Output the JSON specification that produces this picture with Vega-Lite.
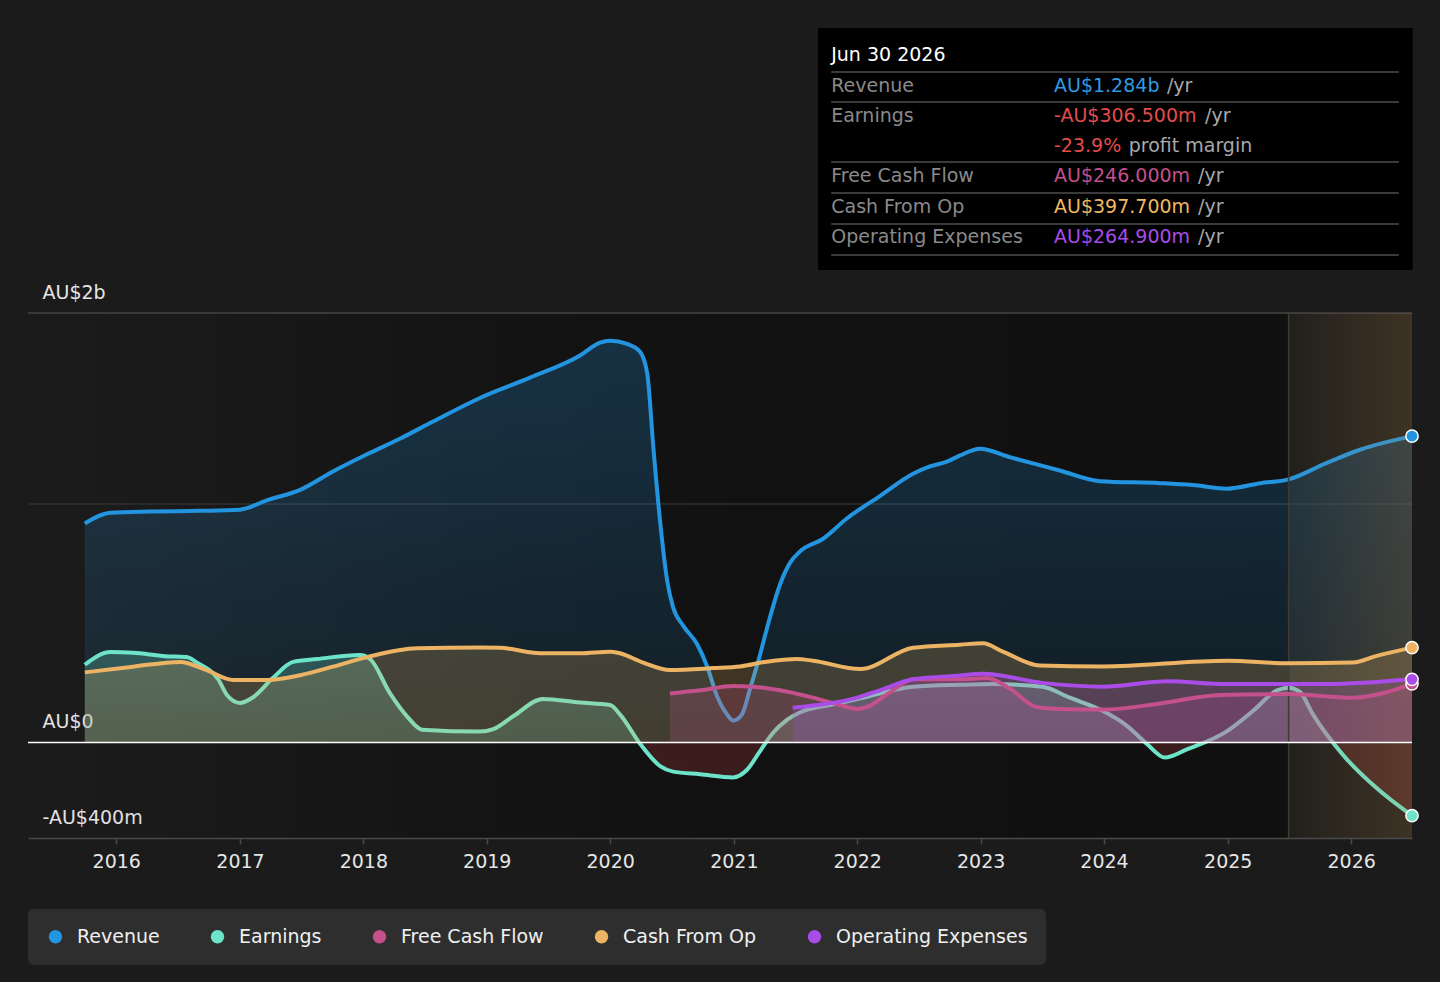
{
  "$schema": "https://vega.github.io/schema/vega-lite/v6.json",
  "width": 1384,
  "height": 525,
  "autosize": {"type": "none"},
  "padding": {"left": 28, "top": 313, "right": 28, "bottom": 144},
  "background": "#1b1b1b",
  "config": {
    "font": "DejaVu Sans",
    "view": {"stroke": null},
    "axis": {"title": null},
    "legend": {
      "orient": "none",
      "legendX": 0,
      "legendY": 596,
      "direction": "horizontal",
      "fillColor": "#2e2e2e",
      "padding": 18,
      "cornerRadius": 6,
      "labelColor": "#f0f0f0",
      "labelFontSize": 19,
      "labelFont": "DejaVu Sans",
      "symbolType": "circle",
      "symbolSize": 180,
      "symbolStrokeWidth": 0,
      "symbolOpacity": 1,
      "labelOffset": 12,
      "columnPadding": 48,
      "labelLimit": 0
    }
  },
  "datasets": {
    "fin": [
      {"series": "Revenue", "date": "2015-09-30", "value": 918},
      {"series": "Revenue", "date": "2015-12-15", "value": 963},
      {"series": "Revenue", "date": "2016-04-10", "value": 968},
      {"series": "Revenue", "date": "2016-09-05", "value": 971},
      {"series": "Revenue", "date": "2017-01-01", "value": 976},
      {"series": "Revenue", "date": "2017-03-23", "value": 1016},
      {"series": "Revenue", "date": "2017-06-28", "value": 1059},
      {"series": "Revenue", "date": "2017-10-03", "value": 1136},
      {"series": "Revenue", "date": "2018-01-12", "value": 1208},
      {"series": "Revenue", "date": "2018-04-19", "value": 1273},
      {"series": "Revenue", "date": "2018-07-26", "value": 1345},
      {"series": "Revenue", "date": "2018-12-12", "value": 1444},
      {"series": "Revenue", "date": "2019-05-09", "value": 1529},
      {"series": "Revenue", "date": "2019-10-04", "value": 1622},
      {"series": "Revenue", "date": "2019-12-02", "value": 1676},
      {"series": "Revenue", "date": "2020-01-01", "value": 1684},
      {"series": "Revenue", "date": "2020-02-20", "value": 1671},
      {"series": "Revenue", "date": "2020-03-30", "value": 1637},
      {"series": "Revenue", "date": "2020-04-20", "value": 1544},
      {"series": "Revenue", "date": "2020-05-08", "value": 1234},
      {"series": "Revenue", "date": "2020-05-28", "value": 924},
      {"series": "Revenue", "date": "2020-06-18", "value": 676},
      {"series": "Revenue", "date": "2020-07-05", "value": 568},
      {"series": "Revenue", "date": "2020-08-04", "value": 490},
      {"series": "Revenue", "date": "2020-09-14", "value": 413},
      {"series": "Revenue", "date": "2020-10-14", "value": 319},
      {"series": "Revenue", "date": "2020-11-12", "value": 195},
      {"series": "Revenue", "date": "2020-12-12", "value": 118},
      {"series": "Revenue", "date": "2020-12-30", "value": 92},
      {"series": "Revenue", "date": "2021-01-25", "value": 118},
      {"series": "Revenue", "date": "2021-02-18", "value": 226},
      {"series": "Revenue", "date": "2021-03-19", "value": 366},
      {"series": "Revenue", "date": "2021-04-17", "value": 521},
      {"series": "Revenue", "date": "2021-05-17", "value": 660},
      {"series": "Revenue", "date": "2021-06-16", "value": 753},
      {"series": "Revenue", "date": "2021-07-15", "value": 800},
      {"series": "Revenue", "date": "2021-09-22", "value": 854},
      {"series": "Revenue", "date": "2021-12-02", "value": 940},
      {"series": "Revenue", "date": "2022-03-09", "value": 1033},
      {"series": "Revenue", "date": "2022-06-15", "value": 1126},
      {"series": "Revenue", "date": "2022-08-04", "value": 1157},
      {"series": "Revenue", "date": "2022-09-23", "value": 1177},
      {"series": "Revenue", "date": "2022-11-01", "value": 1203},
      {"series": "Revenue", "date": "2022-12-30", "value": 1231},
      {"series": "Revenue", "date": "2023-03-28", "value": 1196},
      {"series": "Revenue", "date": "2023-08-23", "value": 1140},
      {"series": "Revenue", "date": "2023-12-20", "value": 1095},
      {"series": "Revenue", "date": "2024-06-15", "value": 1087},
      {"series": "Revenue", "date": "2024-09-20", "value": 1079},
      {"series": "Revenue", "date": "2024-12-30", "value": 1064},
      {"series": "Revenue", "date": "2025-04-07", "value": 1087},
      {"series": "Revenue", "date": "2025-06-30", "value": 1103},
      {"series": "Revenue", "date": "2025-10-21", "value": 1172},
      {"series": "Revenue", "date": "2026-01-27", "value": 1227},
      {"series": "Revenue", "date": "2026-06-30", "value": 1284},

      {"series": "Earnings", "date": "2015-09-30", "value": 326},
      {"series": "Earnings", "date": "2015-12-15", "value": 379},
      {"series": "Earnings", "date": "2016-02-20", "value": 376},
      {"series": "Earnings", "date": "2016-05-25", "value": 362},
      {"series": "Earnings", "date": "2016-07-27", "value": 358},
      {"series": "Earnings", "date": "2016-08-28", "value": 334},
      {"series": "Earnings", "date": "2016-10-30", "value": 262},
      {"series": "Earnings", "date": "2016-11-24", "value": 198},
      {"series": "Earnings", "date": "2017-01-01", "value": 166},
      {"series": "Earnings", "date": "2017-02-09", "value": 190},
      {"series": "Earnings", "date": "2017-04-08", "value": 270},
      {"series": "Earnings", "date": "2017-06-07", "value": 338},
      {"series": "Earnings", "date": "2017-08-17", "value": 350},
      {"series": "Earnings", "date": "2017-12-22", "value": 367},
      {"series": "Earnings", "date": "2018-01-21", "value": 350},
      {"series": "Earnings", "date": "2018-03-21", "value": 206},
      {"series": "Earnings", "date": "2018-05-10", "value": 110},
      {"series": "Earnings", "date": "2018-06-24", "value": 54},
      {"series": "Earnings", "date": "2018-12-12", "value": 46},
      {"series": "Earnings", "date": "2019-01-20", "value": 56},
      {"series": "Earnings", "date": "2019-03-20", "value": 110},
      {"series": "Earnings", "date": "2019-06-16", "value": 183},
      {"series": "Earnings", "date": "2019-10-04", "value": 168},
      {"series": "Earnings", "date": "2020-01-01", "value": 157},
      {"series": "Earnings", "date": "2020-01-30", "value": 118},
      {"series": "Earnings", "date": "2020-03-30", "value": -6},
      {"series": "Earnings", "date": "2020-05-28", "value": -99},
      {"series": "Earnings", "date": "2020-07-05", "value": -122},
      {"series": "Earnings", "date": "2020-09-23", "value": -133},
      {"series": "Earnings", "date": "2020-12-30", "value": -146},
      {"series": "Earnings", "date": "2021-02-09", "value": -114},
      {"series": "Earnings", "date": "2021-03-19", "value": -37},
      {"series": "Earnings", "date": "2021-04-27", "value": 41},
      {"series": "Earnings", "date": "2021-06-07", "value": 95},
      {"series": "Earnings", "date": "2021-07-15", "value": 126},
      {"series": "Earnings", "date": "2021-10-12", "value": 157},
      {"series": "Earnings", "date": "2022-01-18", "value": 188},
      {"series": "Earnings", "date": "2022-06-15", "value": 234},
      {"series": "Earnings", "date": "2022-11-01", "value": 242},
      {"series": "Earnings", "date": "2023-02-06", "value": 245},
      {"series": "Earnings", "date": "2023-07-03", "value": 234},
      {"series": "Earnings", "date": "2023-09-22", "value": 188},
      {"series": "Earnings", "date": "2023-12-28", "value": 133},
      {"series": "Earnings", "date": "2024-03-08", "value": 71},
      {"series": "Earnings", "date": "2024-05-07", "value": -6},
      {"series": "Earnings", "date": "2024-06-29", "value": -63},
      {"series": "Earnings", "date": "2024-09-02", "value": -29},
      {"series": "Earnings", "date": "2024-12-30", "value": 48},
      {"series": "Earnings", "date": "2025-03-17", "value": 133},
      {"series": "Earnings", "date": "2025-05-27", "value": 219},
      {"series": "Earnings", "date": "2025-06-30", "value": 230},
      {"series": "Earnings", "date": "2025-08-03", "value": 211},
      {"series": "Earnings", "date": "2025-09-10", "value": 118},
      {"series": "Earnings", "date": "2025-12-08", "value": -52},
      {"series": "Earnings", "date": "2026-03-18", "value": -192},
      {"series": "Earnings", "date": "2026-06-30", "value": -306.5},

      {"series": "Free Cash Flow", "date": "2020-06-26", "value": 206},
      {"series": "Free Cash Flow", "date": "2020-09-23", "value": 219},
      {"series": "Free Cash Flow", "date": "2020-12-30", "value": 237},
      {"series": "Free Cash Flow", "date": "2021-02-27", "value": 234},
      {"series": "Free Cash Flow", "date": "2021-05-17", "value": 219},
      {"series": "Free Cash Flow", "date": "2021-08-23", "value": 188},
      {"series": "Free Cash Flow", "date": "2021-11-11", "value": 157},
      {"series": "Free Cash Flow", "date": "2022-01-01", "value": 141},
      {"series": "Free Cash Flow", "date": "2022-01-30", "value": 149},
      {"series": "Free Cash Flow", "date": "2022-04-08", "value": 211},
      {"series": "Free Cash Flow", "date": "2022-06-15", "value": 265},
      {"series": "Free Cash Flow", "date": "2022-11-01", "value": 265},
      {"series": "Free Cash Flow", "date": "2023-01-20", "value": 270},
      {"series": "Free Cash Flow", "date": "2023-03-28", "value": 226},
      {"series": "Free Cash Flow", "date": "2023-06-16", "value": 149},
      {"series": "Free Cash Flow", "date": "2023-08-23", "value": 141},
      {"series": "Free Cash Flow", "date": "2023-12-28", "value": 138},
      {"series": "Free Cash Flow", "date": "2024-06-15", "value": 164},
      {"series": "Free Cash Flow", "date": "2024-12-09", "value": 199},
      {"series": "Free Cash Flow", "date": "2025-06-30", "value": 203},
      {"series": "Free Cash Flow", "date": "2026-01-06", "value": 188},
      {"series": "Free Cash Flow", "date": "2026-04-16", "value": 211},
      {"series": "Free Cash Flow", "date": "2026-06-30", "value": 246},

      {"series": "Cash From Op", "date": "2015-09-30", "value": 294},
      {"series": "Cash From Op", "date": "2016-02-20", "value": 318},
      {"series": "Cash From Op", "date": "2016-07-08", "value": 338},
      {"series": "Cash From Op", "date": "2016-09-26", "value": 302},
      {"series": "Cash From Op", "date": "2016-12-12", "value": 262},
      {"series": "Cash From Op", "date": "2017-03-23", "value": 262},
      {"series": "Cash From Op", "date": "2017-06-28", "value": 282},
      {"series": "Cash From Op", "date": "2017-10-03", "value": 318},
      {"series": "Cash From Op", "date": "2018-01-12", "value": 358},
      {"series": "Cash From Op", "date": "2018-06-09", "value": 395},
      {"series": "Cash From Op", "date": "2018-12-12", "value": 398},
      {"series": "Cash From Op", "date": "2019-02-09", "value": 397},
      {"series": "Cash From Op", "date": "2019-06-08", "value": 374},
      {"series": "Cash From Op", "date": "2019-10-04", "value": 374},
      {"series": "Cash From Op", "date": "2020-01-01", "value": 381},
      {"series": "Cash From Op", "date": "2020-01-30", "value": 374},
      {"series": "Cash From Op", "date": "2020-04-08", "value": 335},
      {"series": "Cash From Op", "date": "2020-06-26", "value": 304},
      {"series": "Cash From Op", "date": "2020-11-01", "value": 312},
      {"series": "Cash From Op", "date": "2021-01-19", "value": 319},
      {"series": "Cash From Op", "date": "2021-04-08", "value": 339},
      {"series": "Cash From Op", "date": "2021-07-06", "value": 350},
      {"series": "Cash From Op", "date": "2021-08-23", "value": 343},
      {"series": "Cash From Op", "date": "2022-01-10", "value": 308},
      {"series": "Cash From Op", "date": "2022-06-15", "value": 397},
      {"series": "Cash From Op", "date": "2022-11-01", "value": 410},
      {"series": "Cash From Op", "date": "2023-01-08", "value": 416},
      {"series": "Cash From Op", "date": "2023-03-08", "value": 381},
      {"series": "Cash From Op", "date": "2023-06-25", "value": 323},
      {"series": "Cash From Op", "date": "2023-12-28", "value": 319},
      {"series": "Cash From Op", "date": "2024-12-30", "value": 343},
      {"series": "Cash From Op", "date": "2025-06-30", "value": 332},
      {"series": "Cash From Op", "date": "2026-01-06", "value": 335},
      {"series": "Cash From Op", "date": "2026-03-18", "value": 363},
      {"series": "Cash From Op", "date": "2026-06-30", "value": 397.7},

      {"series": "Operating Expenses", "date": "2021-06-24", "value": 146},
      {"series": "Operating Expenses", "date": "2022-01-01", "value": 188},
      {"series": "Operating Expenses", "date": "2022-03-09", "value": 219},
      {"series": "Operating Expenses", "date": "2022-06-15", "value": 265},
      {"series": "Operating Expenses", "date": "2022-11-01", "value": 281},
      {"series": "Operating Expenses", "date": "2023-01-08", "value": 288},
      {"series": "Operating Expenses", "date": "2023-07-03", "value": 250},
      {"series": "Operating Expenses", "date": "2023-12-28", "value": 234},
      {"series": "Operating Expenses", "date": "2024-07-05", "value": 257},
      {"series": "Operating Expenses", "date": "2024-12-30", "value": 245},
      {"series": "Operating Expenses", "date": "2025-10-21", "value": 245},
      {"series": "Operating Expenses", "date": "2026-06-30", "value": 264.9}
    ]
  },
  "layer": [
    {
      "data": {"values": [{}]},
      "mark": {
        "type": "rect",
        "color": {
          "gradient": "linear", "x1": 0, "y1": 0, "x2": 1, "y2": 0,
          "stops": [
            {"offset": 0, "color": "rgba(0,0,0,0)"},
            {"offset": 0.08, "color": "rgba(0,0,0,0.03)"},
            {"offset": 0.4, "color": "rgba(0,0,0,0.3)"},
            {"offset": 0.6, "color": "rgba(0,0,0,0.38)"},
            {"offset": 1, "color": "rgba(0,0,0,0.4)"}
          ]
        }
      },
      "encoding": {
        "x": {"datum": {"year": 2015, "month": 4, "date": 15}, "type": "temporal"},
        "x2": {"datum": {"year": 2025, "month": 6, "date": 30}},
        "y": {"datum": 1800, "type": "quantitative"},
        "y2": {"datum": -400}
      }
    },
    {
      "data": {"values": [{}]},
      "mark": {"type": "rule", "color": "#454545", "strokeWidth": 1.5},
      "encoding": {"y": {"datum": 1800, "type": "quantitative"}}
    },
    {
      "data": {"values": [{}]},
      "mark": {"type": "rule", "color": "#2f2f2f", "strokeWidth": 1.5},
      "encoding": {"y": {"datum": 1000, "type": "quantitative"}}
    },
    {
      "data": {"name": "fin"},
      "transform": [{"filter": "datum.series === 'Revenue'"}],
      "mark": {
        "type": "area",
        "interpolate": "monotone",
        "color": {
          "gradient": "linear", "x1": 0, "y1": 0, "x2": 0, "y2": 1,
          "stops": [
            {"offset": 0, "color": "rgba(35,148,223,0.24)"},
            {"offset": 1, "color": "rgba(35,148,223,0.09)"}
          ]
        }
      },
      "encoding": {
        "x": {
          "field": "date", "type": "temporal",
          "scale": {"domain": [{"year": 2015, "month": 4, "date": 15}, {"year": 2026, "month": 6, "date": 30}], "nice": false},
          "axis": {
            "format": "%Y",
            "tickCount": {"interval": "year", "step": 1},
            "grid": false,
            "zindex": 1,
            "domainColor": "#4a4a4a",
            "domainWidth": 1.5,
            "tickColor": "#4a4a4a",
            "tickSize": 6,
            "tickWidth": 1.5,
            "labelColor": "#e6e6e6",
            "labelFontSize": 19,
            "labelPadding": 8,
            "labelFlush": false,
            "title": null
          }
        },
        "y": {
          "field": "value", "type": "quantitative",
          "scale": {"domain": [-400, 1800], "nice": false, "zero": false},
          "axis": {
            "values": [-400, 0, 1800],
            "grid": false,
            "domain": false,
            "ticks": false,
            "tickSize": 0,
            "labelExpr": "datum.value === 1800 ? 'AU$2b' : datum.value === 0 ? 'AU$0' : '-AU$400m'",
            "labelAlign": "left",
            "labelPadding": -14,
            "labelBaseline": "alphabetic",
            "labelOffset": -15,
            "labelColor": "#e6e6e6",
            "labelFontSize": 19,
            "labelOverlap": false,
            "labelBound": false,
            "title": null
          }
        }
      }
    },
    {
      "data": {"name": "fin"},
      "transform": [{"filter": "datum.series === 'Revenue'"}],
      "mark": {"type": "line", "interpolate": "monotone", "color": "#2394df", "strokeWidth": 4},
      "encoding": {
        "x": {"field": "date", "type": "temporal"},
        "y": {"field": "value", "type": "quantitative"}
      }
    },
    {
      "data": {"name": "fin"},
      "transform": [{"filter": "datum.series === 'Earnings'"}],
      "mark": {
        "type": "area",
        "interpolate": "monotone",
        "color": {
          "gradient": "linear", "x1": 0, "y1": 0, "x2": 0, "y2": 1,
          "stops": [
            {"offset": 0, "color": "rgba(108,224,200,0.26)"},
            {"offset": 0.5529, "color": "rgba(108,224,200,0.2)"},
            {"offset": 0.5529, "color": "rgba(224,72,72,0.2)"},
            {"offset": 1, "color": "rgba(224,72,72,0.2)"}
          ]
        }
      },
      "encoding": {
        "x": {"field": "date", "type": "temporal"},
        "y": {"field": "value", "type": "quantitative"}
      }
    },
    {
      "data": {"name": "fin"},
      "transform": [{"filter": "datum.series === 'Earnings'"}],
      "mark": {"type": "line", "interpolate": "monotone", "color": "#6de3c9", "strokeWidth": 4},
      "encoding": {
        "x": {"field": "date", "type": "temporal"},
        "y": {"field": "value", "type": "quantitative"}
      }
    },
    {
      "data": {"name": "fin"},
      "transform": [{"filter": "datum.series === 'Cash From Op'"}],
      "mark": {"type": "area", "interpolate": "monotone", "color": "rgba(232,176,96,0.22)"},
      "encoding": {
        "x": {"field": "date", "type": "temporal"},
        "y": {"field": "value", "type": "quantitative"}
      }
    },
    {
      "data": {"name": "fin"},
      "transform": [{"filter": "datum.series === 'Free Cash Flow'"}],
      "mark": {"type": "area", "interpolate": "monotone", "color": "rgba(196,80,140,0.22)"},
      "encoding": {
        "x": {"field": "date", "type": "temporal"},
        "y": {"field": "value", "type": "quantitative"}
      }
    },
    {
      "data": {"name": "fin"},
      "transform": [{"filter": "datum.series === 'Operating Expenses'"}],
      "mark": {"type": "area", "interpolate": "monotone", "color": "rgba(169,76,232,0.2)"},
      "encoding": {
        "x": {"field": "date", "type": "temporal"},
        "y": {"field": "value", "type": "quantitative"}
      }
    },
    {
      "data": {"values": [{}]},
      "mark": {
        "type": "rect",
        "color": {
          "gradient": "linear", "x1": 0, "y1": 0, "x2": 1, "y2": 0,
          "stops": [
            {"offset": 0, "color": "rgba(190,140,70,0.04)"},
            {"offset": 1, "color": "rgba(190,140,70,0.21)"}
          ]
        }
      },
      "encoding": {
        "x": {"datum": {"year": 2025, "month": 6, "date": 30}, "type": "temporal"},
        "x2": {"datum": {"year": 2026, "month": 6, "date": 30}},
        "y": {"datum": 1800, "type": "quantitative"},
        "y2": {"datum": -400}
      }
    },
    {
      "data": {"values": [{}]},
      "mark": {"type": "rule", "color": "#3d3b34", "strokeWidth": 1.5},
      "encoding": {
        "x": {"datum": {"year": 2025, "month": 6, "date": 30}, "type": "temporal"},
        "y": {"datum": 1800, "type": "quantitative"},
        "y2": {"datum": -400}
      }
    },
    {
      "data": {"name": "fin"},
      "transform": [{"filter": "datum.series === 'Cash From Op'"}],
      "mark": {"type": "line", "interpolate": "monotone", "color": "#ebb363", "strokeWidth": 4},
      "encoding": {
        "x": {"field": "date", "type": "temporal"},
        "y": {"field": "value", "type": "quantitative"}
      }
    },
    {
      "data": {"name": "fin"},
      "transform": [{"filter": "datum.series === 'Free Cash Flow'"}],
      "mark": {"type": "line", "interpolate": "monotone", "color": "#c4508c", "strokeWidth": 4},
      "encoding": {
        "x": {"field": "date", "type": "temporal"},
        "y": {"field": "value", "type": "quantitative"}
      }
    },
    {
      "data": {"name": "fin"},
      "transform": [{"filter": "datum.series === 'Operating Expenses'"}],
      "mark": {"type": "line", "interpolate": "monotone", "color": "#a94ce8", "strokeWidth": 4},
      "encoding": {
        "x": {"field": "date", "type": "temporal"},
        "y": {"field": "value", "type": "quantitative"}
      }
    },
    {
      "data": {"values": [{}]},
      "mark": {"type": "rule", "color": "#ffffff", "strokeWidth": 1.5},
      "encoding": {"y": {"datum": 0, "type": "quantitative"}}
    },
    {
      "data": {"name": "fin"},
      "mark": {"type": "circle", "size": 150, "stroke": "#ffffff", "strokeWidth": 1.5, "opacity": 1},
      "encoding": {
        "x": {"aggregate": "max", "field": "date", "type": "temporal"},
        "y": {"aggregate": {"argmax": "date"}, "field": "value", "type": "quantitative"},
        "color": {
          "field": "series", "type": "nominal",
          "scale": {
            "domain": ["Revenue", "Earnings", "Free Cash Flow", "Cash From Op", "Operating Expenses"],
            "range": ["#2394df", "#6de3c9", "#c4508c", "#ebb363", "#a94ce8"]
          },
          "legend": {"title": null}
        }
      }
    },
    {
      "data": {"values": [{}]},
      "mark": {"type": "rect", "color": "#000000"},
      "encoding": {
        "x": {"datum": {"year": 2021, "month": 9, "date": 7}, "type": "temporal"},
        "x2": {"datum": {"year": 2026, "month": 7, "date": 2}},
        "y": {"datum": 2994, "type": "quantitative"},
        "y2": {"datum": 1980}
      }
    },
    {
      "data": {"values": [{}]},
      "mark": {"type": "text", "align": "left", "baseline": "middle", "fontSize": 19, "color": "#ffffff", "text": "Jun 30 2026"},
      "encoding": {
        "x": {"datum": {"year": 2021, "month": 10, "date": 16}, "type": "temporal"},
        "y": {"datum": 2881, "type": "quantitative"}
      }
    },
    {"data": {"values": [{}]}, "mark": {"type": "rule", "color": "#4e4e4e", "strokeWidth": 1.5},
     "encoding": {"x": {"datum": {"year": 2021, "month": 10, "date": 16}, "type": "temporal"}, "x2": {"datum": {"year": 2026, "month": 5, "date": 22}}, "y": {"datum": 2810, "type": "quantitative"}}},
    {"data": {"values": [{}]}, "mark": {"type": "rule", "color": "#4e4e4e", "strokeWidth": 1.5},
     "encoding": {"x": {"datum": {"year": 2021, "month": 10, "date": 16}, "type": "temporal"}, "x2": {"datum": {"year": 2026, "month": 5, "date": 22}}, "y": {"datum": 2684, "type": "quantitative"}}},
    {"data": {"values": [{}]}, "mark": {"type": "rule", "color": "#4e4e4e", "strokeWidth": 1.5},
     "encoding": {"x": {"datum": {"year": 2021, "month": 10, "date": 16}, "type": "temporal"}, "x2": {"datum": {"year": 2026, "month": 5, "date": 22}}, "y": {"datum": 2433, "type": "quantitative"}}},
    {"data": {"values": [{}]}, "mark": {"type": "rule", "color": "#4e4e4e", "strokeWidth": 1.5},
     "encoding": {"x": {"datum": {"year": 2021, "month": 10, "date": 16}, "type": "temporal"}, "x2": {"datum": {"year": 2026, "month": 5, "date": 22}}, "y": {"datum": 2303, "type": "quantitative"}}},
    {"data": {"values": [{}]}, "mark": {"type": "rule", "color": "#4e4e4e", "strokeWidth": 1.5},
     "encoding": {"x": {"datum": {"year": 2021, "month": 10, "date": 16}, "type": "temporal"}, "x2": {"datum": {"year": 2026, "month": 5, "date": 22}}, "y": {"datum": 2173, "type": "quantitative"}}},
    {"data": {"values": [{}]}, "mark": {"type": "rule", "color": "#4e4e4e", "strokeWidth": 1.5},
     "encoding": {"x": {"datum": {"year": 2021, "month": 10, "date": 16}, "type": "temporal"}, "x2": {"datum": {"year": 2026, "month": 5, "date": 22}}, "y": {"datum": 2043, "type": "quantitative"}}},
    {
      "data": {"values": [{}]},
      "mark": {"type": "text", "align": "left", "baseline": "middle", "fontSize": 19, "color": "#8a8a8a", "lineBreak": "\n", "lineHeight": 30.2,
               "text": "Revenue\nEarnings"},
      "encoding": {
        "x": {"datum": {"year": 2021, "month": 10, "date": 16}, "type": "temporal"},
        "y": {"datum": 2751, "type": "quantitative"}
      }
    },
    {
      "data": {"values": [{}]},
      "mark": {"type": "text", "align": "left", "baseline": "middle", "fontSize": 19, "color": "#8a8a8a", "lineBreak": "\n", "lineHeight": 30.5,
               "text": "Free Cash Flow\nCash From Op\nOperating Expenses"},
      "encoding": {
        "x": {"datum": {"year": 2021, "month": 10, "date": 16}, "type": "temporal"},
        "y": {"datum": 2374, "type": "quantitative"}
      }
    },
    {"data": {"values": [{}]}, "mark": {"type": "text", "align": "left", "baseline": "middle", "fontSize": 19, "color": "#2f9be2", "text": "AU$1.284b"},
     "encoding": {"x": {"datum": {"year": 2023, "month": 8, "date": 6}, "type": "temporal"}, "y": {"datum": 2751, "type": "quantitative"}}},
    {"data": {"values": [{}]}, "mark": {"type": "text", "align": "left", "baseline": "middle", "fontSize": 19, "color": "#e24c4c", "text": "-AU$306.500m"},
     "encoding": {"x": {"datum": {"year": 2023, "month": 8, "date": 6}, "type": "temporal"}, "y": {"datum": 2625, "type": "quantitative"}}},
    {"data": {"values": [{}]}, "mark": {"type": "text", "align": "left", "baseline": "middle", "fontSize": 19, "color": "#e24c4c", "text": "-23.9%"},
     "encoding": {"x": {"datum": {"year": 2023, "month": 8, "date": 6}, "type": "temporal"}, "y": {"datum": 2500, "type": "quantitative"}}},
    {"data": {"values": [{}]}, "mark": {"type": "text", "align": "left", "baseline": "middle", "fontSize": 19, "color": "#c4508c", "text": "AU$246.000m"},
     "encoding": {"x": {"datum": {"year": 2023, "month": 8, "date": 6}, "type": "temporal"}, "y": {"datum": 2374, "type": "quantitative"}}},
    {"data": {"values": [{}]}, "mark": {"type": "text", "align": "left", "baseline": "middle", "fontSize": 19, "color": "#f0b862", "text": "AU$397.700m"},
     "encoding": {"x": {"datum": {"year": 2023, "month": 8, "date": 6}, "type": "temporal"}, "y": {"datum": 2244, "type": "quantitative"}}},
    {"data": {"values": [{}]}, "mark": {"type": "text", "align": "left", "baseline": "middle", "fontSize": 19, "color": "#a94ce8", "text": "AU$264.900m"},
     "encoding": {"x": {"datum": {"year": 2023, "month": 8, "date": 6}, "type": "temporal"}, "y": {"datum": 2118, "type": "quantitative"}}},
    {"data": {"values": [{}]}, "mark": {"type": "text", "align": "left", "baseline": "middle", "fontSize": 19, "color": "#a8a8a8", "text": "/yr"},
     "encoding": {"x": {"datum": {"year": 2024, "month": 7, "date": 5}, "type": "temporal"}, "y": {"datum": 2751, "type": "quantitative"}}},
    {"data": {"values": [{}]}, "mark": {"type": "text", "align": "left", "baseline": "middle", "fontSize": 19, "color": "#a8a8a8", "text": "/yr"},
     "encoding": {"x": {"datum": {"year": 2024, "month": 10, "date": 26}, "type": "temporal"}, "y": {"datum": 2625, "type": "quantitative"}}},
    {"data": {"values": [{}]}, "mark": {"type": "text", "align": "left", "baseline": "middle", "fontSize": 19, "color": "#a8a8a8", "text": "profit margin"},
     "encoding": {"x": {"datum": {"year": 2024, "month": 3, "date": 14}, "type": "temporal"}, "y": {"datum": 2500, "type": "quantitative"}}},
    {"data": {"values": [{}]}, "mark": {"type": "text", "align": "left", "baseline": "middle", "fontSize": 19, "color": "#a8a8a8", "lineBreak": "\n", "lineHeight": 30.5, "text": "/yr\n/yr\n/yr"},
     "encoding": {"x": {"datum": {"year": 2024, "month": 10, "date": 5}, "type": "temporal"}, "y": {"datum": 2374, "type": "quantitative"}}}
  ]
}
